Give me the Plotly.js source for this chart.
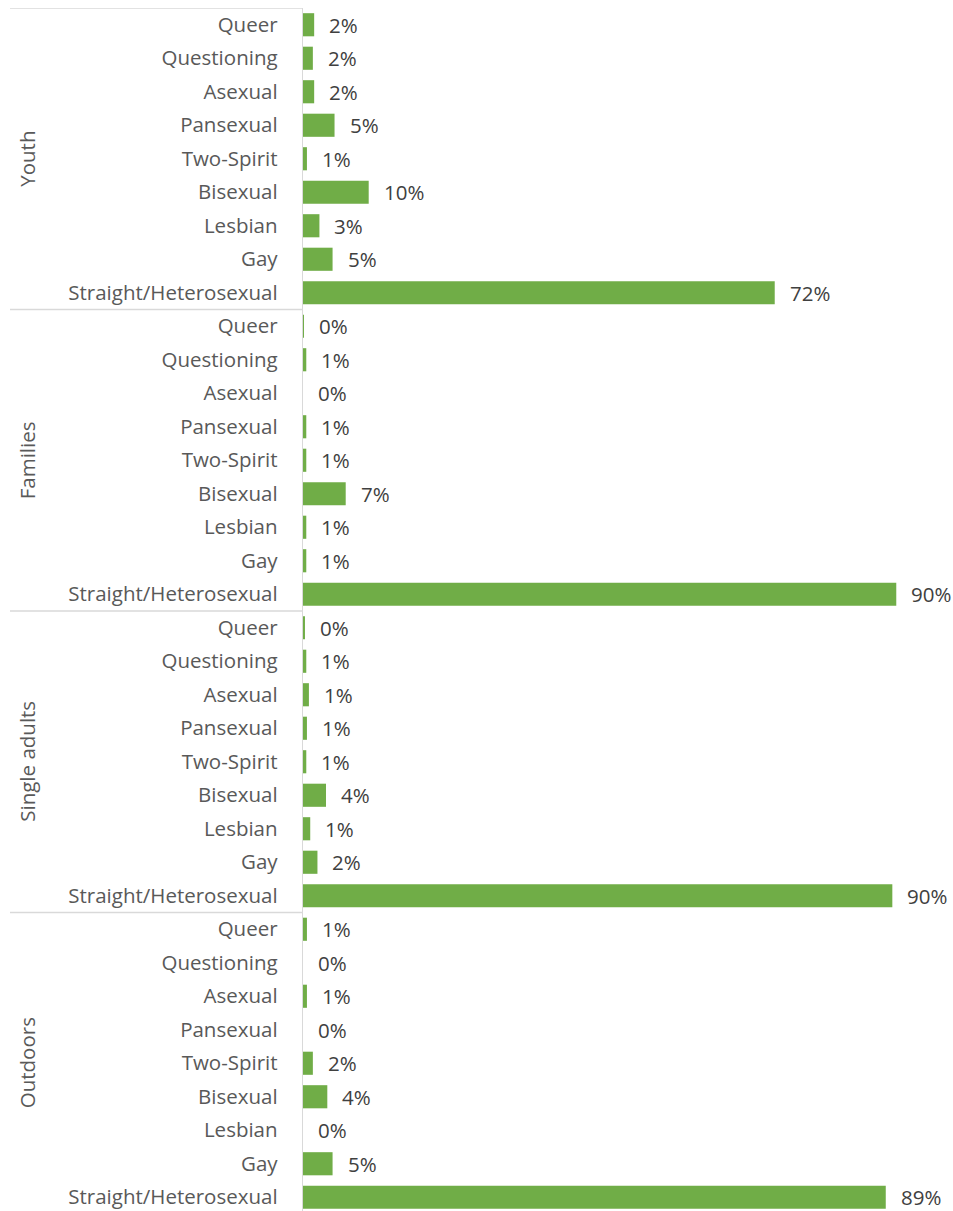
<!DOCTYPE html>
<html>
<head>
<meta charset="utf-8">
<script src="https://cdn.plot.ly/plotly-3.0.1.min.js"></script>
<style>html,body{margin:0;padding:0;background:#fff;}#chart{width:953px;height:1211px;}</style>
</head>
<body>
<div id="chart"></div>
<script>
const groups = ["Youth", "Families", "Single adults", "Outdoors"];
const categories = ["Queer", "Questioning", "Asexual", "Pansexual", "Two-Spirit", "Bisexual", "Lesbian", "Gay", "Straight/Heterosexual"];
const youthValues       = [1.7, 1.5, 1.7, 4.8, 0.6, 10.0, 2.5, 4.5, 71.8];
const familiesValues    = [0.15, 0.5, 0.0, 0.5, 0.5, 6.5, 0.5, 0.5, 90.3];
const singleAdultValues = [0.3, 0.5, 0.9, 0.6, 0.5, 3.5, 1.1, 2.2, 89.7];
const outdoorsValues    = [0.6, 0.0, 0.6, 0.0, 1.5, 3.7, 0.0, 4.5, 88.7];
const youthLabels       = ["2%", "2%", "2%", "5%", "1%", "10%", "3%", "5%", "72%"];
const familiesLabels    = ["0%", "1%", "0%", "1%", "1%", "7%", "1%", "1%", "90%"];
const singleAdultLabels = ["0%", "1%", "1%", "1%", "1%", "4%", "1%", "2%", "90%"];
const outdoorsLabels    = ["1%", "0%", "1%", "0%", "2%", "4%", "0%", "5%", "89%"];

const allValues = [youthValues, familiesValues, singleAdultValues, outdoorsValues];
const allLabels = [youthLabels, familiesLabels, singleAdultLabels, outdoorsLabels];

const W = 953, H = 1211;
const mL = 303, mR = 10, mT = 8, mB = 0;
const plotW = W - mL - mR;
const plotH = H - mT - mB;
const rowPx = 33.5;
const FONT = "Open Sans, sans-serif";
const FS = 20.5;

const yKeys = [], xVals = [], tickText = [], barLabels = [];
groups.forEach((g, gi) => {
  categories.forEach((c, ci) => {
    yKeys.push(g + "|" + c);
    xVals.push(allValues[gi][ci]);
    tickText.push(c);
    barLabels.push(allLabels[gi][ci]);
  });
});

const trace = {
  type: "bar",
  orientation: "h",
  x: xVals,
  y: yKeys,
  width: 0.69,
  marker: {color: "#70AD47"},
  hoverinfo: "skip"
};

const annotations = [];
yKeys.forEach((k, i) => {
  annotations.push({
    x: xVals[i], y: k, xref: "x", yref: "y",
    text: barLabels[i], showarrow: false,
    xanchor: "left", yanchor: "middle", xshift: 13,
    font: {family: FONT, size: FS, color: "#404040"}
  });
});

const n = categories.length;
const shapes = [];
for (let gi = 0; gi < groups.length; gi++) {
  const yb = gi * n - 0.5;
  shapes.push({
    type: "line", xref: "paper", yref: "y",
    x0: -(mL - 10) / plotW, x1: 0, y0: yb, y1: yb,
    line: {color: "#D9D9D9", width: 1.3}
  });
}
groups.forEach((g, gi) => {
  annotations.push({
    xref: "paper", yref: "y",
    x: -(mL - 27) / plotW, y: gi * n + (n - 1) / 2,
    text: g, textangle: -90, showarrow: false,
    xanchor: "center", yanchor: "middle",
    font: {family: FONT, size: FS, color: "#595959"}
  });
});

const layout = {
  width: W, height: H,
  margin: {l: mL, r: mR, t: mT, b: mB},
  paper_bgcolor: "#fff", plot_bgcolor: "#fff",
  showlegend: false,
  xaxis: {
    range: [0, plotW / 6.57],
    showgrid: false, zeroline: false, showticklabels: false, showline: false, ticks: ""
  },
  yaxis: {
    type: "category",
    range: [-0.5 + plotH / rowPx, -0.5],
    tickmode: "array", tickvals: yKeys, ticktext: tickText,
    ticks: "outside", ticklen: 20, tickcolor: "rgba(0,0,0,0)",
    showline: true, linecolor: "#D9D9D9", linewidth: 1.3,
    showgrid: false, zeroline: false,
    tickfont: {family: FONT, size: FS, color: "#595959"}
  },
  shapes: shapes,
  annotations: annotations
};

Plotly.newPlot("chart", [trace], layout, {displayModeBar: false, staticPlot: true});
</script>
</body>
</html>
